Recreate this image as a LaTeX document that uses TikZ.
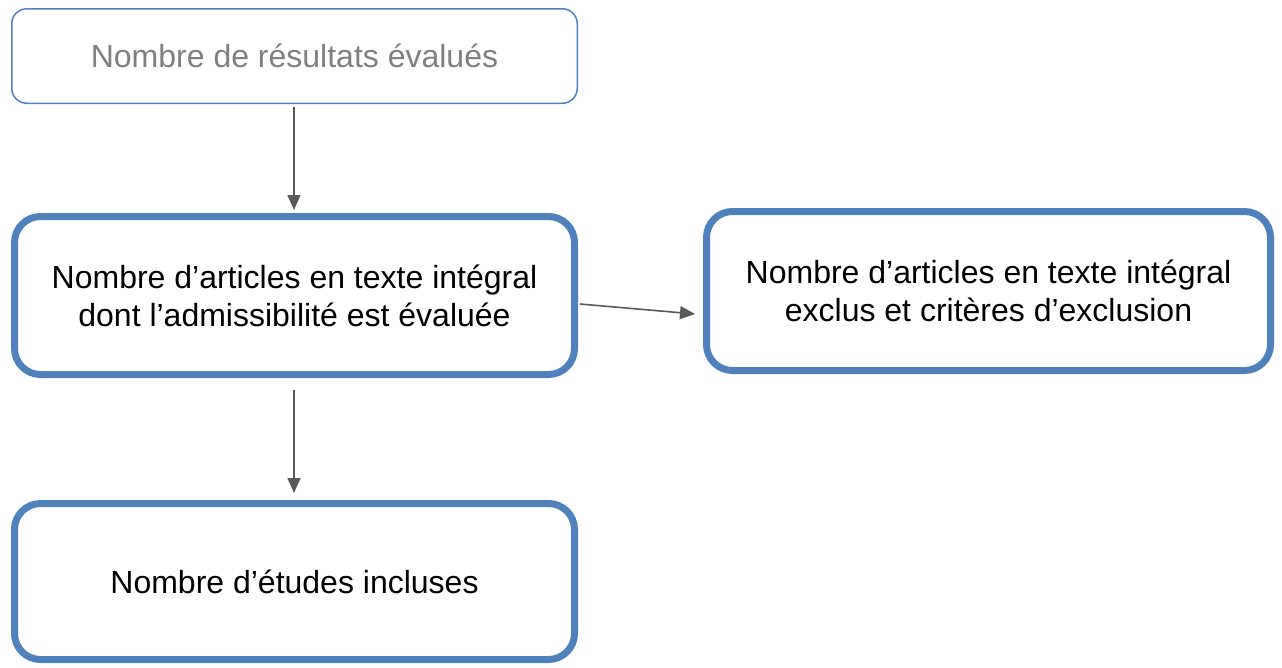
\documentclass[tikz,border=0pt]{standalone}
\usepackage{fontspec}
\setmainfont{Liberation Sans}
\usetikzlibrary{arrows.meta}
\definecolor{boxblue}{HTML}{4F81BD}
\definecolor{arrowgray}{HTML}{595959}
\definecolor{textgray}{HTML}{7F7F7F}
\begin{document}
\begin{tikzpicture}[x=1pt,y=-1pt,
  thinbox/.style={draw=boxblue, line width=1.5pt, rounded corners=15pt, inner sep=0pt, align=center, text=textgray, font=\fontsize{32}{38}\selectfont},
  thickbox/.style={draw=boxblue, line width=7pt, rounded corners=26pt, inner sep=0pt, align=center, text=black, font=\fontsize{32}{38}\selectfont},
  conn/.style={draw=arrowgray, line width=1.6pt, -{Triangle[length=15pt,width=13pt]}}
]
\useasboundingbox (0,0) rectangle (1282,667);
\node[thinbox, minimum width=565.5pt, minimum height=94.5pt] (a) at (294.5,56) {Nombre de résultats évalués};
\node[thickbox, minimum width=560pt, minimum height=158pt] (b) at (294.5,295.5) {Nombre d’articles en texte intégral\\dont l’admissibilité est évaluée};
\node[thickbox, minimum width=564pt, minimum height=159pt] (c) at (988.5,291) {Nombre d’articles en texte intégral\\exclus et critères d’exclusion};
\node[thickbox, minimum width=560pt, minimum height=156pt] (d) at (294.5,581.5) {Nombre d’études incluses};
\coordinate (a1) at (294,107);
\coordinate (b1) at (294,210);
\coordinate (b2) at (580,304);
\coordinate (c1) at (695,314);
\coordinate (b3) at (294,390);
\coordinate (d1) at (294,493);
\draw[conn] (a1) -- (b1);
\draw[conn] (b2) -- (c1);
\draw[conn] (b3) -- (d1);
\end{tikzpicture}
\end{document}
